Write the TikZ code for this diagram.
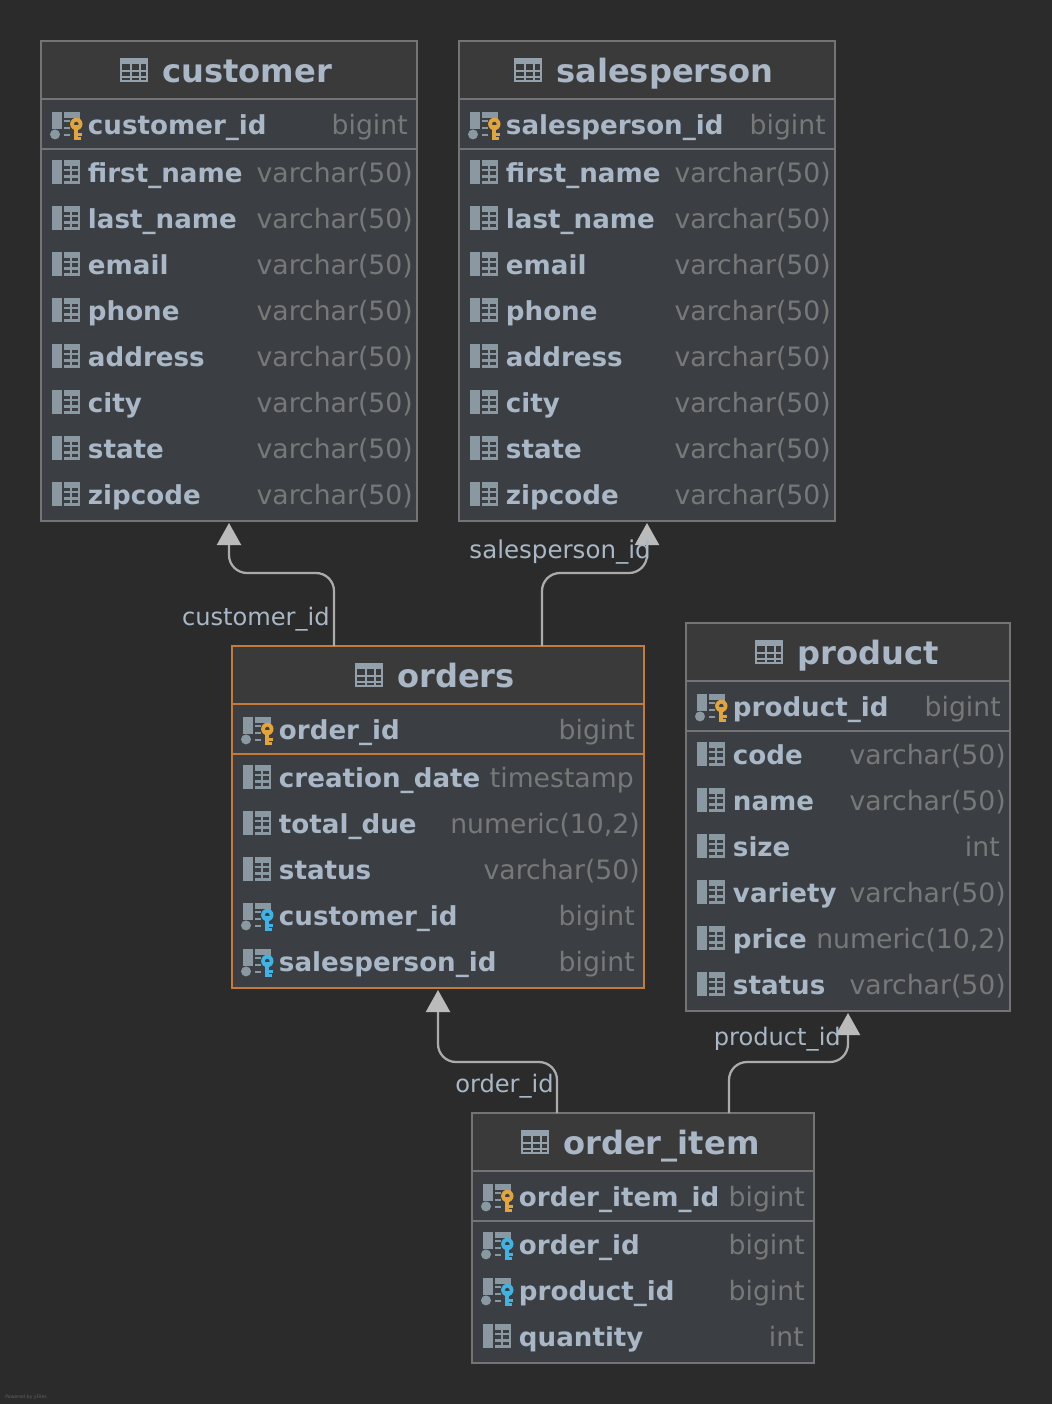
\documentclass[tikz,border=0pt]{standalone}
\usepackage{fontspec}
\setmainfont{DejaVu Sans}
\usetikzlibrary{arrows.meta,calc}
\definecolor{bgc}{HTML}{2B2B2B}
\definecolor{bodyc}{HTML}{3B3F43}
\definecolor{headc}{HTML}{3A3A3A}
\definecolor{edgec}{HTML}{747474}
\definecolor{orangec}{HTML}{C47B38}
\definecolor{textc}{HTML}{A9B7C6}
\definecolor{typec}{HTML}{787878}
\definecolor{iconc}{HTML}{8A98A2}
\definecolor{goldc}{HTML}{E2A53C}
\definecolor{bluec}{HTML}{3FB4E4}
\definecolor{linkc}{HTML}{ABABAB}
\definecolor{tipc}{HTML}{BBBBBB}
\tikzset{
  x=0.75pt,y=-0.75pt,
  tablebox/.style={draw=#1,fill=bodyc,line width=1.5pt,inner sep=0pt,outer sep=0pt,anchor=north west},
  titletext/.style={anchor=base west,inner sep=0pt,text=textc,font=\fontsize{24.1}{28}\selectfont\bfseries},
  nametext/.style={anchor=base west,inner sep=0pt,text=textc,font=\fontsize{19.6}{23}\selectfont\bfseries},
  typetext/.style={anchor=base east,inner sep=0pt,text=typec,font=\fontsize{20}{23}\selectfont},
  linktext/.style={anchor=base east,inner sep=0pt,text=textc,font=\fontsize{18.1}{22}\selectfont},
  link/.style={draw=linkc,line width=1.7pt,rounded corners=13.5pt,-{Triangle[length=16.5pt,width=18pt,color=tipc,fill=tipc]},shorten >=1.5pt}
}
% table frame: name, left, top, right, bottom, header line, key line, colour, title, icon x
\newcommand{\titleicon}[2]{%
  \begin{scope}[shift={(#1,#2)}]
    \fill[iconc!70!textc] (0,-12) rectangle (28,12);
    \foreach \ya/\yb in {-6/0,2/6,8/10}
      \foreach \xa/\xb in {2/10,12/19,20.7/26}
        \fill[headc] (\xa,\ya) rectangle (\xb,\yb);
  \end{scope}
}
\newcommand{\dbtable}[9]{%
  \pgfmathsetmacro{\boxw}{(#4-#2)*0.75}%
  \pgfmathsetmacro{\boxh}{(#5-#3)*0.75}%
  \node[tablebox=#8,minimum width=\boxw pt,minimum height=\boxh pt] (#1) at (#2,#3) {};
  \fill[headc] (#2,#3) rectangle (#4,#6);
  \draw[#8,line width=1.5pt] (#2,#3) rectangle (#4,#5);
  \draw[#8,line width=1.5pt] (#2,#6) -- (#4,#6);
  \draw[#8,line width=1.5pt] (#2,#7) -- (#4,#7);
  \pgfmathsetmacro{\tcy}{#3+29}%
  \titleicon{#9}{\tcy}
  \pgfmathsetmacro{\ttx}{#9+42}%
  \pgfmathsetmacro{\tty}{\tcy+12}%
  \node[titletext] (#1title) at (\ttx,\tty) {\detokenize{#1}};
}
\newcommand{\colicon}[2]{%
  \begin{scope}[shift={(#1,#2)}]
    \fill[iconc] (0,-13) rectangle (10,11);
    \fill[iconc] (12,-13) rectangle (28,-7.5);
    \foreach \yy in {-3,3.5,9.5}
      \fill[iconc] (12,\yy-1.2) rectangle (28,\yy+1.2);
    \fill[iconc] (17.8,-8) rectangle (19.8,10.7);
    \fill[iconc] (26,-8) rectangle (28,10.7);
  \end{scope}
}
\newcommand{\keyicon}[3]{%
  \begin{scope}[shift={(#1,#2)}]
    \fill[iconc] (0,-13) rectangle (9.5,4);
    \fill[iconc] (3,9.4) circle (5);
    \fill[iconc] (12,-13) rectangle (28,-7);
    \fill[iconc] (25,-7) rectangle (28,-4);
    \foreach \yy in {-4,3,10}
      \fill[iconc] (12,\yy-1) rectangle (18,\yy+1);
    \fill[#3] (22,0) rectangle (26.3,14.7);
    \fill[#3] (26,8) rectangle (30.3,10.5);
    \fill[#3] (26,12) rectangle (29,14.7);
    \fill[#3,even odd rule] (24.3,-1) circle (6.2) (24.3,-1) circle (2.4);
  \end{scope}
}
% row: table, left, right, y, kind (c/p/f), name, type, right offset
\newcommand{\trow}[8]{%
  \pgfmathsetmacro{\ix}{#2+11}%
  \if#5c\colicon{\ix}{#4}\fi
  \if#5p\keyicon{\ix}{#4}{goldc}\fi
  \if#5f\keyicon{\ix}{#4}{bluec}\fi
  \pgfmathsetmacro{\nx}{#2+46.7}%
  \pgfmathsetmacro{\ny}{#4+9}%
  \pgfmathsetmacro{\rx}{#3-#8}%
  \node[nametext] (#1n#4) at (\nx,\ny) {#6};
  \node[typetext] (#1t#4) at (\rx,\ny) {#7};
}
\newcommand{\personrows}[3]{%
  \trow{#1}{#2}{#3}{173}{c}{first\_name}{varchar(50)}{4}
  \trow{#1}{#2}{#3}{219}{c}{last\_name}{varchar(50)}{4}
  \trow{#1}{#2}{#3}{265}{c}{email}{varchar(50)}{4}
  \trow{#1}{#2}{#3}{311}{c}{phone}{varchar(50)}{4}
  \trow{#1}{#2}{#3}{357}{c}{address}{varchar(50)}{4}
  \trow{#1}{#2}{#3}{403}{c}{city}{varchar(50)}{4}
  \trow{#1}{#2}{#3}{449}{c}{state}{varchar(50)}{4}
  \trow{#1}{#2}{#3}{495}{c}{zipcode}{varchar(50)}{4}
}
\begin{document}
\begin{tikzpicture}
\fill[bgc] (0,0) rectangle (1052,1404);
\useasboundingbox (0,0) rectangle (1052,1404);

\dbtable{customer}{41}{41}{417}{521}{99}{149}{edgec}{120}
\trow{customer}{41}{417}{125}{p}{customer\_id}{bigint}{9}
\personrows{customer}{41}{417}

\dbtable{salesperson}{459}{41}{835}{521}{99}{149}{edgec}{514}
\trow{salesperson}{459}{835}{125}{p}{salesperson\_id}{bigint}{9}
\personrows{salesperson}{459}{835}

\dbtable{orders}{232}{646}{644}{988}{704}{754}{orangec}{355}
\trow{orders}{232}{644}{730}{p}{order\_id}{bigint}{9}
\trow{orders}{232}{644}{778}{c}{creation\_date}{timestamp}{10}
\trow{orders}{232}{644}{824}{c}{total\_due}{numeric(10,2)}{4}
\trow{orders}{232}{644}{870}{c}{status}{varchar(50)}{4}
\trow{orders}{232}{644}{916}{f}{customer\_id}{bigint}{9}
\trow{orders}{232}{644}{962}{f}{salesperson\_id}{bigint}{9}

\dbtable{product}{686}{623}{1010}{1011}{681}{731}{edgec}{755}
\trow{product}{686}{1010}{707}{p}{product\_id}{bigint}{9}
\trow{product}{686}{1010}{755}{c}{code}{varchar(50)}{4}
\trow{product}{686}{1010}{801}{c}{name}{varchar(50)}{4}
\trow{product}{686}{1010}{847}{c}{size}{int}{10}
\trow{product}{686}{1010}{893}{c}{variety}{varchar(50)}{4}
\trow{product}{686}{1010}{939}{c}{price}{numeric(10,2)}{4}
\trow{product}{686}{1010}{985}{c}{status}{varchar(50)}{4}

\dbtable{order_item}{472}{1113}{814}{1363}{1171}{1221}{edgec}{521}
\trow{order_item}{472}{814}{1197}{p}{order\_item\_id}{bigint}{9}
\trow{order_item}{472}{814}{1245}{f}{order\_id}{bigint}{9}
\trow{order_item}{472}{814}{1291}{f}{product\_id}{bigint}{9}
\trow{order_item}{472}{814}{1337}{c}{quantity}{int}{10}

% connectors
\coordinate (m1) at (334,573);
\coordinate (m2) at (542,573);
\coordinate (m3) at (557,1062);
\coordinate (m4) at (729,1062);
\coordinate (s1) at ($(orders.north west)+(102,0)$);
\coordinate (s2) at ($(orders.north west)+(310,0)$);
\coordinate (s3) at ($(order_item.north west)+(85,0)$);
\coordinate (s4) at ($(order_item.north west)+(257,0)$);
\draw[link] (s1) -- (s1 |- m1) -- (customer.south |- m1) -- (customer.south);
\draw[link] (s2) -- (s2 |- m2) -- (salesperson.south |- m2) -- (salesperson.south);
\draw[link] (s3) -- (s3 |- m3) -- (orders.south |- m3) -- (orders.south);
\draw[link] (s4) -- (s4 |- m4) -- (product.south |- m4) -- (product.south);

\node[linktext] (l1) at (330,625) {customer\_id};
\node[linktext,font=\fontsize{18.4}{22}\selectfont] (l2) at (651,558) {salesperson\_id};
\node[linktext] (l3) at (554,1092) {order\_id};
\node[linktext] (l4) at (841,1045) {product\_id};

\node[anchor=base west,inner sep=0pt,text=typec!70!bgc,font=\fontsize{3.5}{5}\selectfont] (powered) at (5,1398) {Powered by yFiles};
\end{tikzpicture}
\end{document}
